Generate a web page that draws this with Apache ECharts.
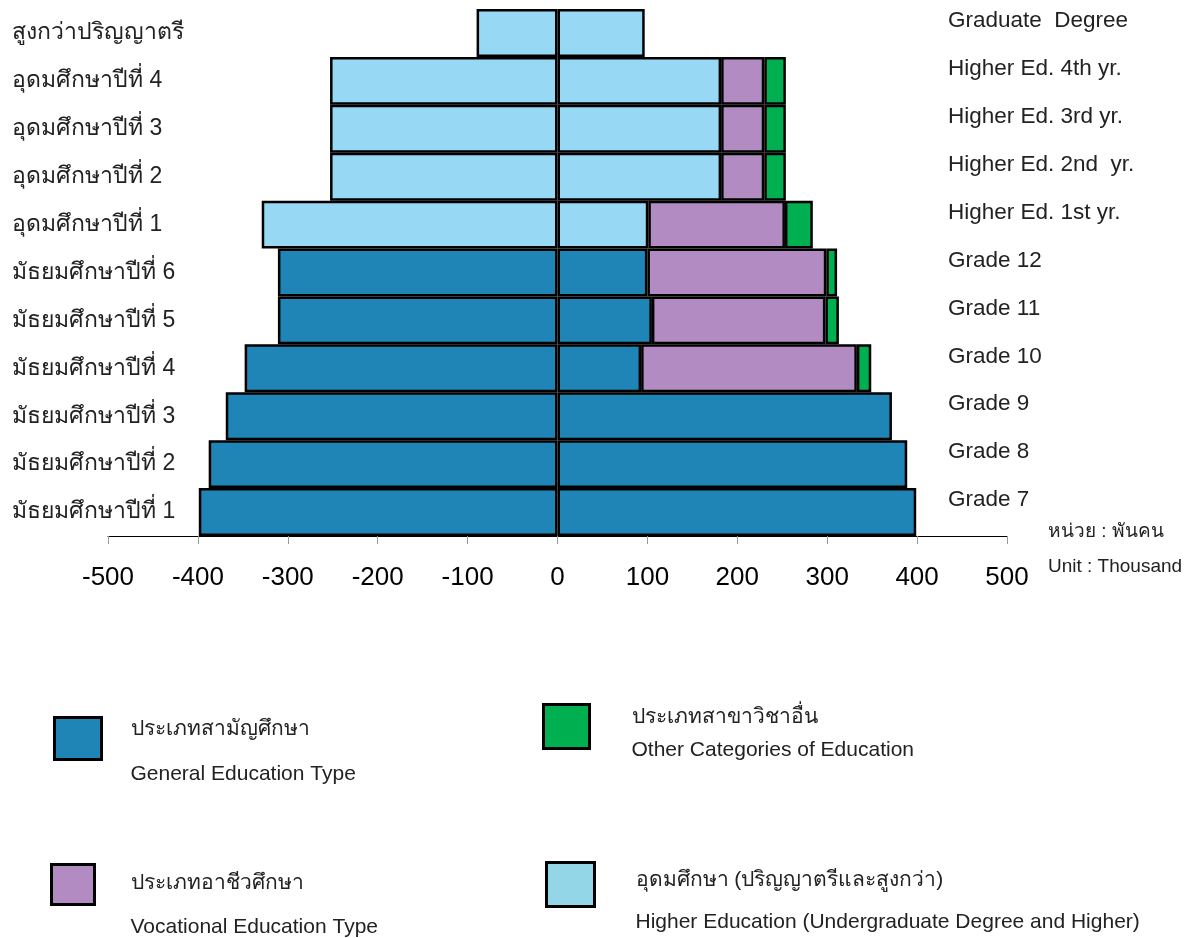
<!DOCTYPE html>
<html>
<head>
<meta charset="utf-8">
<script src="https://cdn.jsdelivr.net/npm/echarts@6/dist/echarts.min.js"></script>
<style>html,body{margin:0;padding:0;background:#fff}#c{width:1200px;height:938px}</style>
</head>
<body>
<div id="c"></div>
<script>
// Categories bottom -> top
var thaiLabels = ['มัธยมศึกษาปีที่ 1','มัธยมศึกษาปีที่ 2','มัธยมศึกษาปีที่ 3','มัธยมศึกษาปีที่ 4','มัธยมศึกษาปีที่ 5','มัธยมศึกษาปีที่ 6','อุดมศึกษาปีที่ 1','อุดมศึกษาปีที่ 2','อุดมศึกษาปีที่ 3','อุดมศึกษาปีที่ 4','สูงกว่าปริญญาตรี'];
var engLabels = ['Grade 7','Grade 8','Grade 9','Grade 10','Grade 11','Grade 12','Higher Ed. 1st yr.','Higher Ed. 2nd  yr.','Higher Ed. 3rd yr.','Higher Ed. 4th yr.','Graduate  Degree'];
// Left side (negative)
var leftGeneral = [-399,-388,-369,-348,-311,-311,null,null,null,null,null];
var leftHigher  = [null,null,null,null,null,null,-329,-253,-253,-253,-90];
// Right side (stacked)
var rightGeneral    = [399,389,372,93,105,100,null,null,null,null,null];
var rightHigher     = [null,null,null,null,null,null,101,182,182,182,97];
var rightVocational = [null,null,null,240,193,199,152,48,48,48,null];
var rightOther      = [null,null,null,16,15,12,31,24,24,24,null];
var xTicks = {min:-500, max:500, interval:100};
var legendText = {
  general:['ประเภทสามัญศึกษา','General Education Type'],
  other:['ประเภทสาขาวิชาอื่น','Other Categories of Education'],
  vocational:['ประเภทอาชีวศึกษา','Vocational Education Type'],
  higher:['อุดมศึกษา (ปริญญาตรีและสูงกว่า)','Higher Education (Undergraduate Degree and Higher)']
};
var unitText = ['หน่วย : พันคน','Unit : Thousand'];

var C = {general:'#1F85B6', higher:'#97D9F5', vocational:'#B18BC1', other:'#00B050'};
var LC = {general:'#1F85B6', higher:'#93D6E7', vocational:'#B18BC1', other:'#00B050'};
var FONT = 'Liberation Sans, Arial, sans-serif';
var border = {borderColor:'#000', borderWidth:2.5};

function bar(name, data){
  return {name:name, type:'bar', stack:'all', data:data, barCategoryGap:'0%', barGap:'-100%',
    itemStyle:Object.assign({color:C[name]}, border), emphasis:{disabled:true}};
}
function leg(name, left, top, lh, padTop, padLeft, iw, ih){
  return {data:[name], left:left, top:top, padding:0, itemWidth:iw, itemHeight:ih, icon:'rect',
    itemStyle:{color:LC[name], borderColor:'#000', borderWidth:3},
    selectedMode:false,
    formatter:function(n){return '{t|'+legendText[n][0]+'}\n{e|'+legendText[n][1]+'}';},
    textStyle:{padding:[padTop,0,0,padLeft], color:'#222',
      rich:{t:{fontSize:21, lineHeight:lh, color:'#222', fontFamily:FONT},
            e:{fontSize:21, lineHeight:lh, color:'#222', fontFamily:FONT}}}};
}

var chart = echarts.init(document.getElementById('c'), null, {renderer:'canvas'});
chart.setOption({
  animation:false,
  backgroundColor:'#fff',
  grid:{left:108, right:193, top:9, bottom:402, containLabel:false},
  xAxis:{type:'value', min:xTicks.min, max:xTicks.max, interval:xTicks.interval,
    axisLine:{show:true, lineStyle:{color:'#000', width:1}},
    axisTick:{show:true, length:8, lineStyle:{color:'#999'}},
    splitLine:{show:false},
    axisLabel:{fontSize:26, color:'#000', fontFamily:FONT, margin:29},
    name:'{t|'+unitText[0]+'}\n{e|'+unitText[1]+'}', nameLocation:'end', nameGap:41,
    nameTextStyle:{padding:[27,0,0,0], align:'left', verticalAlign:'middle',
      rich:{t:{fontSize:19, lineHeight:35, color:'#222', fontFamily:FONT},
            e:{fontSize:19, lineHeight:35, color:'#222', fontFamily:FONT}}}},
  yAxis:[
    {type:'category', data:thaiLabels, position:'left',
      axisLine:{show:false}, axisTick:{show:false},
      axisLabel:{align:'left', margin:96, fontSize:23, color:'#222', fontFamily:FONT}},
    {type:'category', data:engLabels, position:'right',
      axisLine:{show:false}, axisTick:{show:false},
      axisLabel:{align:'left', margin:-59, fontSize:22.5, color:'#222', fontFamily:FONT,
        verticalAlign:'bottom', lineHeight:24}}
  ],
  legend:[
    leg('general', 53, 716, 45, 27, 24, 47, 42),
    leg('other', 542, 703, 33, 15, 37, 46, 44),
    leg('vocational', 50, 863, 44, 42, 31, 43, 40),
    leg('higher', 545, 861, 42, 34, 36, 48, 44)
  ],
  series:[
    bar('general', leftGeneral),
    bar('higher', leftHigher),
    bar('general', rightGeneral),
    bar('higher', rightHigher),
    bar('vocational', rightVocational),
    bar('other', rightOther)
  ]
});
</script>
</body>
</html>
